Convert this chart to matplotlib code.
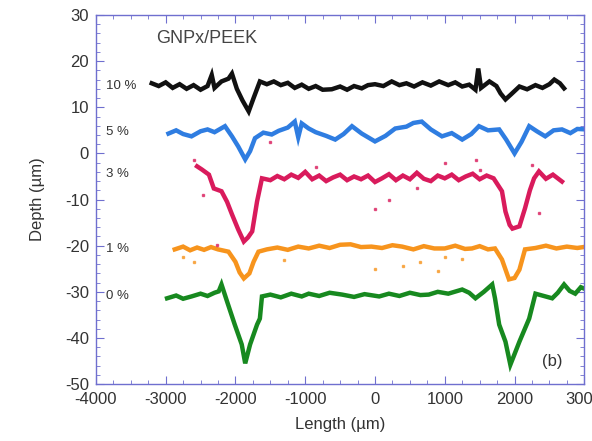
import matplotlib
matplotlib.use("Agg")
import matplotlib.pyplot as plt
from matplotlib.ticker import MultipleLocator

plt.rcParams['font.family'] = ['Liberation Sans', 'DejaVu Sans']
plt.rcParams['axes.unicode_minus'] = False

# profiles (length in um, depth in um)
x10 = [-3200, -3100, -3000, -2900, -2800, -2700, -2600, -2500, -2400, -2340, -2300, -2200, -2100,
       -2050, -1980, -1900, -1810, -1740, -1650, -1550, -1450, -1350, -1250, -1150, -1050, -950,
       -850, -750, -620, -500, -400, -300, -190, -100, 0, 120, 240, 350, 450, 560, 680, 800, 920,
       1050, 1150, 1250, 1350, 1440, 1480, 1520, 1640, 1740, 1800, 1870, 1950, 2070, 2180, 2300,
       2400, 2500, 2570, 2650, 2710]
y10 = [15.2, 14.6, 15.4, 14.2, 15.0, 14.0, 14.8, 13.8, 14.6, 17.0, 14.2, 15.6, 16.2,
       17.3, 14.0, 11.5, 9.1, 12.0, 15.6, 15.0, 15.6, 14.8, 15.3, 14.2, 14.9, 14.0,
       14.6, 13.8, 13.9, 14.5, 13.8, 14.6, 14.1, 14.8, 15.0, 14.6, 15.6, 14.8, 15.2, 14.5, 15.4, 14.7, 15.6,
       14.8, 15.4, 14.5, 14.9, 13.8, 18.4, 14.2, 15.6, 14.6, 13.0, 11.7, 12.8, 14.5, 13.9, 14.8,
       14.2, 15.0, 16.0, 15.2, 14.1]

x5 = [-2960, -2850, -2750, -2630, -2500, -2400, -2300, -2150, -2050, -1960, -1860, -1790, -1720,
      -1600, -1480, -1380, -1250, -1150, -1100, -1050, -950, -850, -700, -570, -450, -330, -190,
      0, 150, 290, 450, 550, 670, 800, 960, 1100, 1250, 1380, 1490, 1620, 1780, 1880, 2000, 2100,
      2210, 2320, 2440, 2560, 2680, 2800, 2900, 3030]
y5 = [4.3, 5.0, 4.2, 3.7, 4.8, 5.2, 4.6, 5.9, 3.7, 1.5, -1.3, 0.5, 3.3,
      4.5, 4.1, 4.9, 5.6, 6.9, 3.5, 6.5, 5.4, 4.6, 3.8, 3.0, 4.2, 5.9, 4.3,
      2.6, 3.8, 5.4, 5.8, 6.6, 6.9, 5.2, 3.7, 4.4, 3.0, 4.2, 5.9, 5.0, 5.2, 3.0, 0.0, 2.5,
      5.9, 4.8, 3.7, 5.0, 5.2, 4.4, 5.3, 5.2]

x3 = [-2550, -2480, -2380, -2310, -2200, -2120, -2050, -1960, -1880, -1820, -1760, -1690, -1620,
      -1500, -1400, -1300, -1200, -1100, -1000, -900, -800, -700, -600, -500, -400, -300, -200, -100,
      0, 100, 200, 300, 400, 500, 600, 700, 800, 900, 1000, 1100, 1200, 1300, 1400, 1500, 1600,
      1700, 1820, 1870, 1930, 1970, 2070, 2150, 2220, 2280, 2350, 2450, 2550, 2680]
y3 = [-2.8, -3.5, -4.6, -7.6, -8.2, -10.5, -13.2, -16.5, -19.1, -18.2, -16.9, -10.4, -5.4,
      -5.8, -4.9, -5.6, -4.6, -5.3, -4.0, -5.6, -4.8, -6.0, -5.2, -4.6, -5.8, -5.0, -5.6, -4.8,
      -6.2, -5.4, -4.5, -5.8, -4.8, -5.6, -4.2, -5.5, -6.0, -4.8, -5.4, -4.6, -5.8, -5.0, -4.4, -5.6, -4.8,
      -5.4, -8.2, -12.6, -15.5, -16.3, -15.8, -11.9, -8.0, -5.4, -3.9, -5.5, -4.6, -6.1]

x1 = [-2870, -2750, -2650, -2550, -2450, -2350, -2250, -2100, -2000, -1940, -1880, -1800, -1740,
      -1670, -1550, -1400, -1250, -1100, -950, -800, -650, -500, -350, -200, -50, 100, 250, 390,
      550, 700, 850, 1000, 1150, 1290, 1390, 1500, 1620, 1720, 1820, 1920, 2000, 2070, 2150, 2300,
      2450, 2600, 2750, 2900, 3030]
y1 = [-20.8, -20.2, -21.0, -20.4, -20.9, -20.3, -20.8, -21.3, -23.5, -25.8, -27.1, -26.0, -23.5,
      -21.3, -20.8, -20.4, -20.9, -20.2, -20.6, -20.0, -20.5, -19.8, -19.7, -20.3, -20.2, -20.5, -19.9, -20.2,
      -20.8, -20.1, -20.6, -20.6, -20.0, -20.7, -20.6, -20.1, -20.8, -20.6, -23.0, -27.3, -27.0, -25.2, -20.8, -20.5,
      -20.0, -20.6, -20.2, -20.5, -20.2]

x0 = [-2980, -2850, -2750, -2630, -2500, -2400, -2300, -2240, -2200, -2120, -2010, -1910, -1860,
      -1790, -1690, -1650, -1620, -1500, -1350, -1200, -1050, -950, -800, -650, -470, -300, -150,
      60, 200, 350, 500, 650, 770, 900, 1050, 1250, 1350, 1440, 1560, 1680, 1720, 1780, 1870,
      1940, 2000, 2070, 2210, 2300, 2420, 2540, 2620, 2710, 2790, 2870, 2950, 3030]
y0 = [-31.4, -30.8, -31.5, -31.0, -30.4, -30.9, -30.2, -29.9, -28.4, -32.1, -37.1, -41.4, -45.5,
      -41.4, -37.1, -35.8, -31.0, -30.6, -31.2, -30.4, -31.0, -30.4, -30.9, -30.2, -30.6, -31.1, -30.5,
      -31.0, -30.4, -30.9, -30.2, -30.7, -30.6, -30.0, -30.4, -29.5, -30.2, -31.4, -30.0, -28.4, -31.4, -37.1, -40.8,
      -45.8, -43.5, -40.8, -35.8, -30.4, -30.9, -31.4, -30.2, -28.4, -29.8, -30.4, -29.0, -29.5]

traces = [(x10, y10, '#111111'), (x5, y5, '#2f7de1'), (x3, y3, '#d91b5c'),
          (x1, y1, '#f7941d'), (x0, y0, '#17891f')]

# stray points around the 3 % and 1 % profiles
red_dots_x = [-2600, -2470, -2260, -1500, -850, 0, 200, 600, 1000, 1450, 1500, 2250, 2350]
red_dots_y = [-1.5, -9.0, -19.8, 2.5, -3.0, -12.0, -10.0, -7.5, -2.0, -1.5, -3.5, -2.5, -13.0]
orange_dots_x = [-2750, -2600, -1300, 0, 400, 650, 900, 1000, 1250]
orange_dots_y = [-22.5, -23.5, -23.0, -25.0, -24.5, -23.5, -25.5, -22.5, -22.8]

labels = ['10 %', '5 %', '3 %', '1 %', '0 %']
label_y = [14.7, 4.7, -4.4, -20.7, -30.8]

frame = '#6f6fcf'

fig = plt.figure(figsize=(5.92, 4.41), dpi=100)
ax = fig.add_axes([0.162, 0.129, 0.825, 0.837])

for xs, ys, c in traces:
    ax.plot(xs, ys, color=c, lw=3.2, solid_joinstyle='miter')
ax.plot(red_dots_x, red_dots_y, ls='none', marker='s', ms=1.5, color='#d91b5c', alpha=0.7)
ax.plot(orange_dots_x, orange_dots_y, ls='none', marker='s', ms=1.5, color='#f7941d', alpha=0.7)

for lab, ly in zip(labels, label_y):
    ax.text(-3860, ly, lab, fontsize=9.5, color='#333333', va='center', ha='left')
ax.text(-3130, 24.8, 'GNPx/PEEK', fontsize=13, color='#444444', va='center')
ax.text(2400, -45.2, '(b)', fontsize=12, color='#333333', va='center')

ax.set_xlim(-4000, 3000)
ax.set_ylim(-50, 30)
ax.xaxis.set_major_locator(MultipleLocator(1000))
ax.xaxis.set_minor_locator(MultipleLocator(250))
ax.yaxis.set_major_locator(MultipleLocator(10))
ax.yaxis.set_minor_locator(MultipleLocator(2))
ax.tick_params(which='both', direction='in', top=True, right=True, color=frame,
               labelcolor='#333333', labelsize=12)
ax.tick_params(which='major', length=6)
ax.tick_params(which='minor', length=3)
ax.tick_params(axis='y', pad=5)
ax.tick_params(axis='x', pad=6)
for s in ax.spines.values():
    s.set_color(frame)
    s.set_linewidth(1.0)

ax.set_xlabel('Length (\u00b5m)', fontsize=12, color='#333333', labelpad=7)
ax.set_ylabel('Depth (\u00b5m)', fontsize=12, color='#333333', labelpad=14)

fig.savefig('out.png', dpi=100)
